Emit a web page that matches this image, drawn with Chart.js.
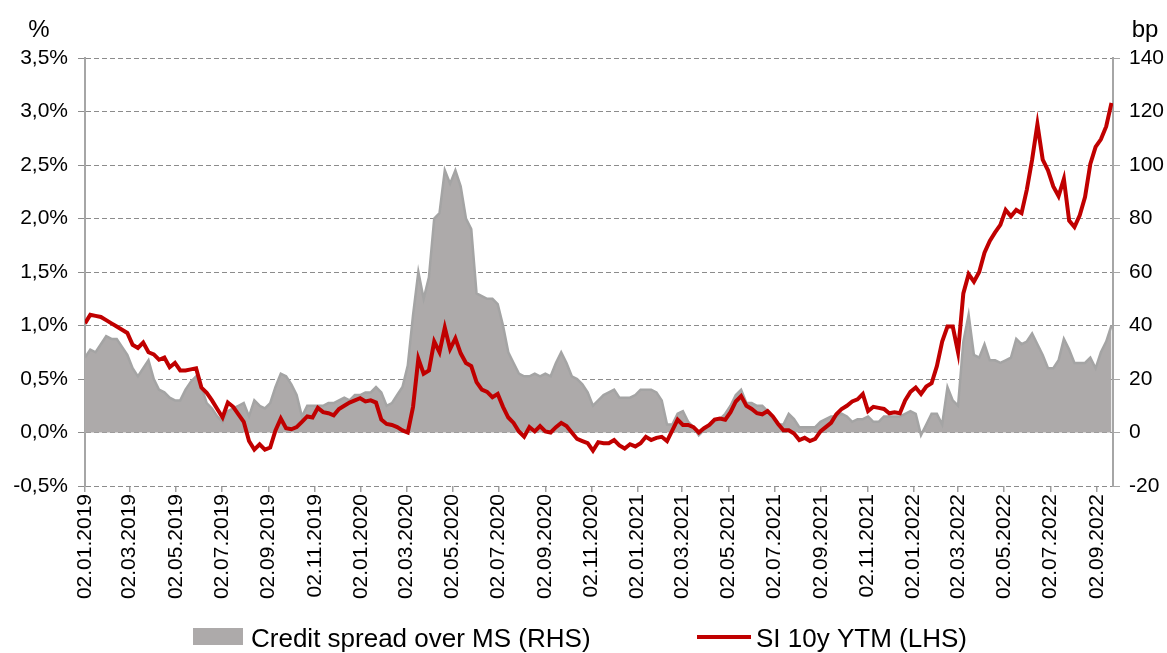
<!DOCTYPE html>
<html>
<head>
<meta charset="utf-8">
<title>Credit spread and SI 10y YTM</title>
<script src="https://cdn.jsdelivr.net/npm/chart.js@4/dist/chart.umd.min.js"></script>
<style>
	html, body { margin: 0; padding: 0; background: #fff; }
	#wrap { width: 1167px; height: 653px; }
</style>
</head>
<body>
<div id="wrap"><canvas id="chart" width="1167" height="653"></canvas></div>
<script>
const dates = [
	"2019-01-02","2019-01-09","2019-01-16","2019-01-23","2019-01-30","2019-02-06","2019-02-13","2019-02-20","2019-02-27",
	"2019-03-06","2019-03-13","2019-03-20","2019-03-27","2019-04-03","2019-04-10","2019-04-17","2019-04-24",
	"2019-05-01","2019-05-08","2019-05-15","2019-05-22","2019-05-29","2019-06-05","2019-06-12","2019-06-19","2019-06-26",
	"2019-07-03","2019-07-10","2019-07-17","2019-07-24","2019-07-31","2019-08-07","2019-08-14","2019-08-21","2019-08-28",
	"2019-09-04","2019-09-11","2019-09-18","2019-09-25","2019-10-02","2019-10-09","2019-10-16","2019-10-23","2019-10-30",
	"2019-11-06","2019-11-13","2019-11-20","2019-11-27","2019-12-04","2019-12-11","2019-12-18","2019-12-25",
	"2020-01-01","2020-01-08","2020-01-15","2020-01-22","2020-01-29","2020-02-05","2020-02-12","2020-02-19","2020-02-26",
	"2020-03-04","2020-03-11","2020-03-18","2020-03-25","2020-04-01","2020-04-08","2020-04-15","2020-04-22","2020-04-29",
	"2020-05-06","2020-05-13","2020-05-20","2020-05-27","2020-06-03","2020-06-10","2020-06-17","2020-06-24",
	"2020-07-01","2020-07-08","2020-07-15","2020-07-22","2020-07-29","2020-08-05","2020-08-12","2020-08-19","2020-08-26",
	"2020-09-02","2020-09-09","2020-09-16","2020-09-23","2020-09-30","2020-10-07","2020-10-14","2020-10-21","2020-10-28",
	"2020-11-04","2020-11-11","2020-11-18","2020-11-25","2020-12-02","2020-12-09","2020-12-16","2020-12-23","2020-12-30",
	"2021-01-06","2021-01-13","2021-01-20","2021-01-27","2021-02-03","2021-02-10","2021-02-17","2021-02-24",
	"2021-03-03","2021-03-10","2021-03-17","2021-03-24","2021-03-31","2021-04-07","2021-04-14","2021-04-21","2021-04-28",
	"2021-05-05","2021-05-12","2021-05-19","2021-05-26","2021-06-02","2021-06-09","2021-06-16","2021-06-23","2021-06-30",
	"2021-07-07","2021-07-14","2021-07-21","2021-07-28","2021-08-04","2021-08-11","2021-08-18","2021-08-25",
	"2021-09-01","2021-09-08","2021-09-15","2021-09-22","2021-09-29","2021-10-06","2021-10-13","2021-10-20","2021-10-27",
	"2021-11-03","2021-11-10","2021-11-17","2021-11-24","2021-12-01","2021-12-08","2021-12-15","2021-12-22","2021-12-29",
	"2022-01-05","2022-01-12","2022-01-19","2022-01-26","2022-02-02","2022-02-09","2022-02-16","2022-02-23",
	"2022-03-02","2022-03-09","2022-03-16","2022-03-23","2022-03-30","2022-04-06","2022-04-13","2022-04-20","2022-04-27",
	"2022-05-04","2022-05-11","2022-05-18","2022-05-25","2022-06-01","2022-06-08","2022-06-15","2022-06-22","2022-06-29",
	"2022-07-06","2022-07-13","2022-07-20","2022-07-27","2022-08-03","2022-08-10","2022-08-17","2022-08-24","2022-08-31",
	"2022-09-07","2022-09-14","2022-09-21"
];

// SI 10y YTM, % (left axis)
const ytmPct = [
	1.02, 1.10, 1.09, 1.08, 1.05, 1.02, 0.99, 0.96, 0.93, 0.82,
	0.79, 0.84, 0.75, 0.73, 0.68, 0.70, 0.61, 0.65, 0.58, 0.58,
	0.59, 0.60, 0.42, 0.37, 0.30, 0.22, 0.14, 0.28, 0.24, 0.17,
	0.10, -0.08, -0.16, -0.11, -0.16, -0.14, 0.02, 0.13, 0.04, 0.03,
	0.05, 0.10, 0.15, 0.14, 0.23, 0.19, 0.18, 0.16, 0.22, 0.25,
	0.28, 0.30, 0.32, 0.29, 0.30, 0.28, 0.12, 0.08, 0.07, 0.05,
	0.02, 0.00, 0.24, 0.69, 0.55, 0.58, 0.85, 0.75, 0.98, 0.78,
	0.88, 0.74, 0.65, 0.62, 0.47, 0.40, 0.38, 0.33, 0.36, 0.24,
	0.14, 0.09, 0.01, -0.04, 0.05, 0.01, 0.06, 0.01, 0.00, 0.05,
	0.09, 0.06, 0.00, -0.06, -0.08, -0.10, -0.17, -0.09, -0.10, -0.10,
	-0.07, -0.12, -0.15, -0.11, -0.13, -0.10, -0.04, -0.07, -0.05, -0.04,
	-0.08, 0.02, 0.12, 0.07, 0.07, 0.05, 0.00, 0.04, 0.07, 0.12,
	0.13, 0.12, 0.19, 0.29, 0.34, 0.25, 0.22, 0.18, 0.17, 0.20,
	0.15, 0.08, 0.02, 0.02, -0.01, -0.07, -0.05, -0.08, -0.06, 0.01,
	0.05, 0.09, 0.17, 0.22, 0.25, 0.29, 0.31, 0.36, 0.20, 0.24,
	0.23, 0.22, 0.18, 0.19, 0.18, 0.30, 0.38, 0.42, 0.36, 0.43,
	0.46, 0.62, 0.85, 0.99, 0.99, 0.75, 1.30, 1.48, 1.41, 1.50,
	1.68, 1.79, 1.87, 1.94, 2.08, 2.02, 2.08, 2.05, 2.27, 2.55,
	2.88, 2.55, 2.45, 2.30, 2.21, 2.37, 1.98, 1.92, 2.03, 2.20,
	2.51, 2.67, 2.74, 2.86, 3.08
];

// credit spread over MS, bp (right axis)
const spreadBp = [
	28, 31, 30, 33, 36, 35, 35, 32, 29, 24,
	21, 24, 27, 20, 16, 15, 13, 12, 12, 16,
	19, 21, 17, 11, 9, 6, 4, 8, 9, 10,
	11, 6, 12, 10, 9, 11, 17, 22, 21, 18,
	14, 6, 10, 10, 10, 10, 11, 11, 12, 13,
	12, 14, 14, 15, 15, 17, 15, 10, 11, 14,
	17, 25, 44, 60, 50, 58, 80, 82, 98, 93,
	98, 92, 80, 76, 52, 51, 50, 50, 48, 40,
	30, 26, 22, 21, 21, 22, 21, 22, 21, 26,
	30, 26, 21, 20, 18, 15, 10, 12, 14, 15,
	16, 13, 13, 13, 14, 16, 16, 16, 15, 12,
	3, 3, 7, 8, 4, 2, -1, 1, 3, 5,
	5, 7, 10, 14, 16, 11, 11, 10, 10, 8,
	5, 3, 3, 7, 5, 2, 2, 2, 2, 4,
	5, 6, 6, 7, 6, 4, 5, 5, 6, 4,
	4, 6, 6, 6, 6, 7, 8, 7, -1, 3,
	7, 7, 3, 17, 12, 10, 34, 44, 29, 28,
	33, 27, 27, 26, 27, 28, 35, 33, 34, 37,
	33, 29, 24, 24, 27, 35, 31, 26, 26, 26,
	28, 24, 30, 34, 40
];

// x axis tick labels, every two months
const tickLabels = [
	"02.01.2019","02.03.2019","02.05.2019","02.07.2019","02.09.2019","02.11.2019",
	"02.01.2020","02.03.2020","02.05.2020","02.07.2020","02.09.2020","02.11.2020",
	"02.01.2021","02.03.2021","02.05.2021","02.07.2021","02.09.2021","02.11.2021",
	"02.01.2022","02.03.2022","02.05.2022","02.07.2022","02.09.2022"
];
const lastDay = "2022-09-23";

const spreadLabel = "Credit spread over MS (RHS)";
const ytmLabel = "SI 10y YTM (LHS)";

const FONT = '"Liberation Sans", Arial, sans-serif';
const GREY_FILL = "#adaaaa";
const GREY_EDGE = "#a4a4a4";
const RED = "#c00000";

// days since the first observation
const t0 = Date.parse(dates[0]);
function dayOf(iso) {
	return (Date.parse(iso) - t0) / 86400000;
}
function dayOfDMY(s) {
	const p = s.split(".");
	return (Date.UTC(+p[2], +p[1] - 1, +p[0]) - t0) / 86400000;
}

const tickDays = tickLabels.map(dayOfDMY);

function toPoints(values) {
	return values.map((v, i) => ({ x: dayOf(dates[i]), y: v }));
}

// legend and axis unit labels, drawn on the canvas
const extrasPlugin = {
	id: "extras",
	afterDraw(chart) {
		const ctx = chart.ctx;
		const area = chart.chartArea;
		ctx.save();
		ctx.fillStyle = "#000";
		ctx.textBaseline = "alphabetic";

		ctx.font = "24px " + FONT;
		ctx.textAlign = "center";
		ctx.fillText("%", area.left - 46, area.top - 21);
		ctx.fillText("bp", area.right + 32, area.top - 21);

		ctx.font = "26px " + FONT;
		ctx.textAlign = "left";
		// grey area item
		ctx.fillStyle = GREY_FILL;
		ctx.fillRect(193, 628, 50, 17);
		ctx.fillStyle = "#000";
		ctx.fillText(spreadLabel, 251, 647);
		// red line item
		ctx.strokeStyle = RED;
		ctx.lineWidth = 4;
		ctx.beginPath();
		ctx.moveTo(697, 637);
		ctx.lineTo(751, 637);
		ctx.stroke();
		ctx.fillText(ytmLabel, 756, 647);
		ctx.restore();
	}
};

Chart.defaults.font.family = FONT;
Chart.defaults.color = "#000";

const ctx = document.getElementById("chart");
new Chart(ctx, {
	type: "line",
	data: {
		datasets: [
			{
				label: spreadLabel,
				data: toPoints(spreadBp),
				yAxisID: "y1",
				borderColor: GREY_EDGE,
				backgroundColor: GREY_FILL,
				borderWidth: 2.5,
				fill: "origin",
				pointRadius: 0,
				tension: 0,
				order: 2
			},
			{
				label: ytmLabel,
				data: toPoints(ytmPct),
				yAxisID: "y",
				borderColor: RED,
				backgroundColor: RED,
				borderWidth: 4,
				fill: false,
				pointRadius: 0,
				tension: 0,
				order: 1
			}
		]
	},
	options: {
		responsive: false,
		animation: false,
		layout: { padding: { top: 58, bottom: 47, left: 0, right: 0 } },
		plugins: {
			legend: { display: false },
			tooltip: { enabled: false }
		},
		scales: {
			x: {
				type: "linear",
				min: 0,
				max: dayOf(lastDay),
				afterBuildTicks: (scale) => {
					scale.ticks = tickDays.map((d) => ({ value: d }));
				},
				afterFit: (scale) => {
					scale.height = 120;
				},
				ticks: {
					autoSkip: false,
					minRotation: 90,
					maxRotation: 90,
					padding: 2,
					font: { size: 21 },
					callback: (v) => {
						const i = tickDays.indexOf(v);
						return i >= 0 ? tickLabels[i] : "";
					}
				},
				grid: {
					drawOnChartArea: false,
					drawTicks: true,
					tickLength: 6,
					color: "#a0a0a0",
					lineWidth: 1.5
				},
				border: { display: false }
			},
			y: {
				position: "left",
				min: -0.5,
				max: 3.5,
				afterFit: (scale) => {
					scale.width = 85;
				},
				ticks: {
					stepSize: 0.5,
					padding: 10,
					font: { size: 21 },
					callback: (v) => v.toFixed(1).replace(".", ",") + "%"
				},
				grid: {
					color: "#8c8c8c",
					lineWidth: 1,
					tickLength: 7
				},
				border: { display: true, color: "#a6a6a6", width: 2, dash: [5, 3] }
			},
			y1: {
				position: "right",
				min: -20,
				max: 140,
				afterFit: (scale) => {
					scale.width = 54;
				},
				ticks: {
					stepSize: 20,
					padding: 9,
					font: { size: 21 }
				},
				grid: {
					drawOnChartArea: false,
					drawTicks: true,
					tickLength: 7,
					color: "#a6a6a6"
				},
				border: { display: true, color: "#a6a6a6", width: 2 }
			}
		}
	},
	plugins: [extrasPlugin]
});
</script>
</body>
</html>
